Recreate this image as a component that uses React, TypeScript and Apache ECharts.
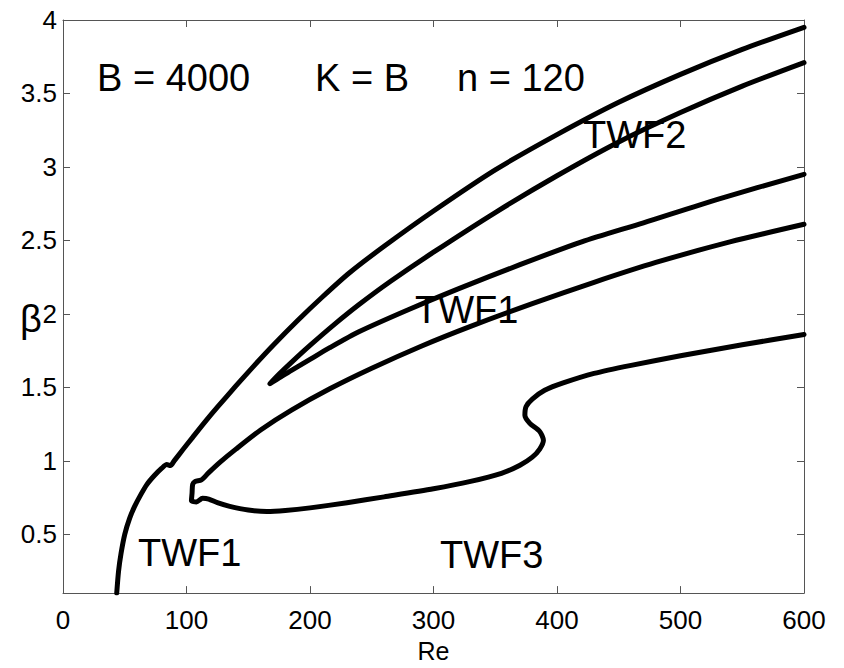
import React, { useEffect, useRef } from "react";
import * as echarts from "echarts";

const xTicks = [0, 100, 200, 300, 400, 500, 600];
const yTicks = [0.5, 1, 1.5, 2, 2.5, 3, 3.5, 4];

// Outer TWF1 branch (rises from bottom, kink near Re 85, goes to top right)
const outerCurve: [number, number][] = [
  [43.5, 0.1], [45, 0.25], [47, 0.37], [50, 0.5], [54, 0.61], [58, 0.69],
  [63, 0.77], [68, 0.84], [74, 0.9], [80, 0.95], [84, 0.975], [87, 0.968],
  [90, 1.0], [97, 1.075], [105, 1.16], [115, 1.265], [125, 1.365], [140, 1.51],
  [155, 1.65], [170, 1.785], [190, 1.955], [210, 2.115], [232, 2.28], [260, 2.46],
  [300, 2.7], [350, 2.98], [400, 3.22], [450, 3.44], [500, 3.63], [550, 3.8],
  [600, 3.95],
];

// TWF2 cusp: upper branch -> cusp -> lower branch
const cuspCurve: [number, number][] = [
  [600, 3.71], [550, 3.55], [500, 3.37], [450, 3.17], [400, 2.94], [350, 2.69],
  [300, 2.42], [265, 2.22], [240, 2.065], [220, 1.93], [200, 1.785], [185, 1.67],
  [175, 1.59], [167.6, 1.525], [175, 1.565], [185, 1.615], [200, 1.69], [216, 1.77],
  [240, 1.88], [280, 2.03], [320, 2.17], [370, 2.335], [420, 2.49], [470, 2.62],
  [530, 2.78], [600, 2.95],
];

// TWF1 upper branch -> loop near Re 105 -> TWF3 lower branch with S-bend
const loopCurve: [number, number][] = [
  [600, 2.61], [540, 2.49], [480, 2.35], [430, 2.215], [380, 2.07], [330, 1.915],
  [290, 1.78], [250, 1.63], [216, 1.49], [185, 1.345], [160, 1.21], [140, 1.08],
  [127, 0.99], [118, 0.92], [112, 0.87], [107, 0.86], [105, 0.84], [104.5, 0.78],
  [104, 0.73], [108, 0.72], [113, 0.745], [118, 0.74], [125, 0.715], [135, 0.69],
  [150, 0.665], [165, 0.655], [180, 0.662], [200, 0.68], [230, 0.715], [260, 0.755],
  [300, 0.81], [330, 0.86], [355, 0.915], [370, 0.97], [380, 1.025], [386, 1.08],
  [389, 1.14], [386, 1.2], [378, 1.255], [374, 1.31], [375, 1.37], [380, 1.42],
  [390, 1.48], [405, 1.53], [430, 1.595], [460, 1.65], [500, 1.715], [550, 1.79],
  [600, 1.86],
];

const FONT = "Liberation Sans, Arial, Helvetica, sans-serif";

export default function App() {
  const ref = useRef<HTMLDivElement>(null);
  useEffect(() => {
    if (!ref.current) return;
    const chart = echarts.init(ref.current, undefined, { renderer: "svg" });
    const axisColor = "#555";
    const lineSeries = (data: [number, number][]) => ({
      type: "line",
      data,
      showSymbol: false,
      smooth: 0.25,
      lineStyle: { color: "#000", width: 5, cap: "round", join: "round" },
      xAxisIndex: 0,
      yAxisIndex: 0,
    });
    const commonX = {
      type: "value",
      min: 0,
      max: 600,
      interval: 100,
      axisLine: { show: true, onZero: false, lineStyle: { color: axisColor, width: 1 } },
      axisTick: { show: true, inside: true, length: 7, lineStyle: { color: axisColor } },
      splitLine: { show: false },
    };
    const commonY = {
      type: "value",
      min: 0.1,
      max: 4,
      axisLine: { show: true, onZero: false, lineStyle: { color: axisColor, width: 1 } },
      axisTick: { show: true, inside: true, length: 7, customValues: yTicks, lineStyle: { color: axisColor } },
      splitLine: { show: false },
    };
    chart.setOption({
      animation: false,
      backgroundColor: "#fff",
      grid: { left: 63, top: 20, width: 741, height: 583, containLabel: false },
      xAxis: [
        {
          ...commonX,
          position: "bottom",
          name: "Re",
          nameLocation: "middle",
          nameGap: 40,
          nameTextStyle: { color: "#000", fontSize: 25, fontFamily: FONT },
          axisLabel: { show: true, color: "#000", fontSize: 26, fontFamily: FONT, margin: 14, customValues: xTicks },
          axisTick: { ...commonX.axisTick, customValues: xTicks },
        },
        {
          ...commonX,
          position: "top",
          axisLabel: { show: false },
          axisTick: { ...commonX.axisTick, customValues: xTicks },
        },
      ],
      yAxis: [
        {
          ...commonY,
          position: "left",
          axisLabel: { show: true, color: "#000", fontSize: 26, fontFamily: FONT, margin: 6, customValues: yTicks },
        },
        {
          ...commonY,
          position: "right",
          axisLabel: { show: false },
        },
      ],
      graphic: [
        { type: "text", left: 20, top: 300, style: { text: "β", fontSize: 38, fontFamily: FONT, fill: "#000" } },
        { type: "text", x: 97, y: 78, style: { text: "B = 4000", fontSize: 38, fontFamily: FONT, fill: "#000", verticalAlign: "middle" } },
        { type: "text", x: 315, y: 78, style: { text: "K = B", fontSize: 38, fontFamily: FONT, fill: "#000", verticalAlign: "middle" } },
        { type: "text", x: 457, y: 78, style: { text: "n = 120", fontSize: 38, fontFamily: FONT, fill: "#000", verticalAlign: "middle" } },
        { type: "text", x: 583, y: 135, style: { text: "TWF2", fontSize: 38, fontFamily: FONT, fill: "#000", verticalAlign: "middle" } },
        { type: "text", x: 415, y: 310, style: { text: "TWF1", fontSize: 38, fontFamily: FONT, fill: "#000", verticalAlign: "middle" } },
        { type: "text", x: 138, y: 553, style: { text: "TWF1", fontSize: 38, fontFamily: FONT, fill: "#000", verticalAlign: "middle" } },
        { type: "text", x: 440, y: 555, style: { text: "TWF3", fontSize: 38, fontFamily: FONT, fill: "#000", verticalAlign: "middle" } },
      ],
      series: [lineSeries(outerCurve), lineSeries(cuspCurve), lineSeries(loopCurve)],
    });
    return () => chart.dispose();
  }, []);
  return (
    <div
      ref={ref}
      style={{ position: "fixed", left: 0, top: 0, width: 844, height: 668, background: "#fff" }}
    />
  );
}
